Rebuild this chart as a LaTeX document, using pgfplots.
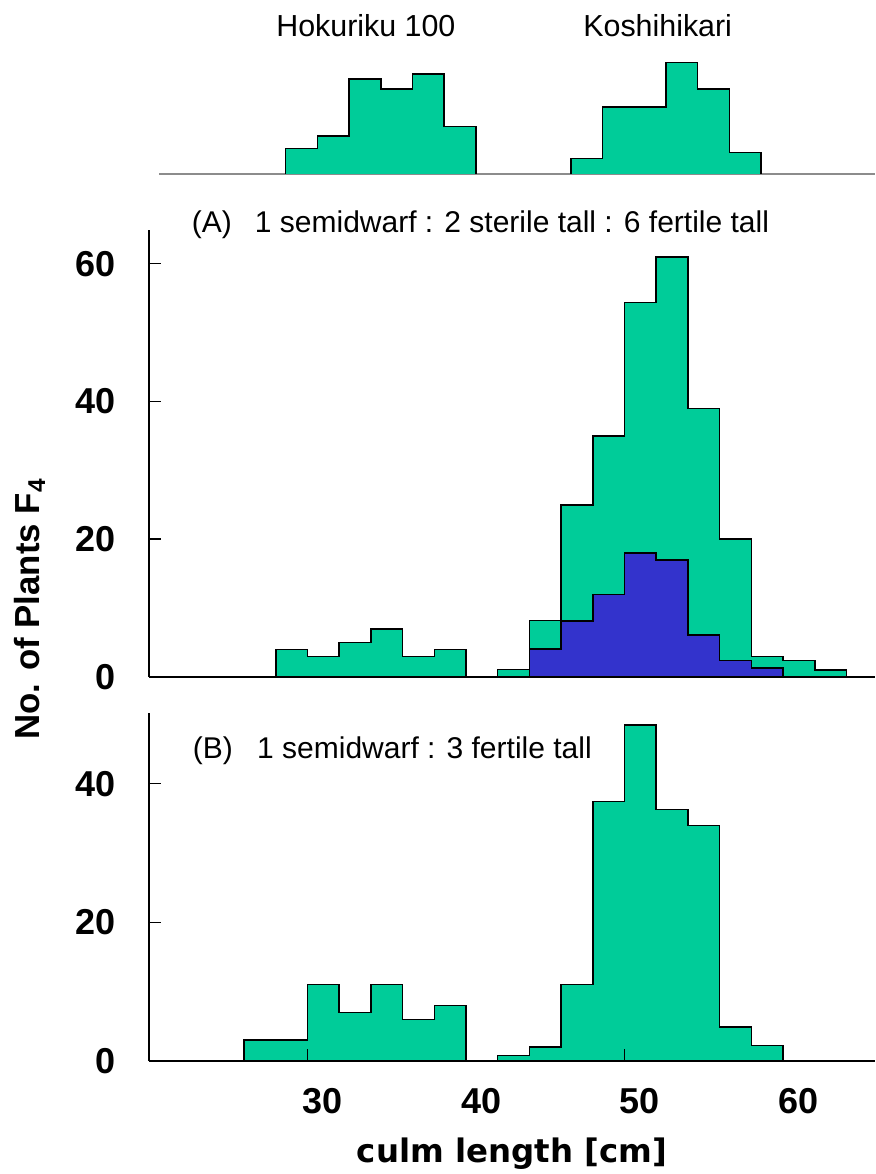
\documentclass[border=0pt]{standalone}
\usepackage{fontspec}
\setmainfont{Liberation Sans}
\newfontfamily\gothic{DejaVu Sans}
\usepackage{pgfplots}
\pgfplotsset{compat=1.18}
\definecolor{fertile}{HTML}{00CC99}
\definecolor{sterile}{HTML}{3333CC}

\pgfplotsset{
  panel/.style={
    scale only axis, anchor=south west,
    width=363pt, xmin=20, xmax=65.8, ymin=0,
    axis lines*=left, axis on top, clip=false,
    axis line style={black, line width=0.75pt},
    tick align=inside, major tick length=6pt,
    tick style={black, line width=0.75pt},
    /pgf/number format/assume math mode=true,
    tick label style={font=\fontsize{18}{18}\selectfont\bfseries},
    yticklabel style={anchor=east, inner sep=0pt, xshift=-16.5pt},
  },
  hist/.style={const plot, mark=none, draw=black, line width=0.75pt, fill=fertile},
}
\tikzset{note/.style={anchor=base west, inner sep=0pt, font=\fontsize{15}{15}\selectfont}}

\begin{document}
\begin{tikzpicture}
\useasboundingbox (0,0) rectangle (437.5pt,587pt);

% parents
\begin{axis}[
  scale only axis, anchor=south west, at={(79.5pt,500pt)},
  width=358pt, height=62pt,
  xmin=20.6, xmax=65.8, ymin=0, ymax=18,
  axis x line*=bottom, axis y line=none,
  xtick=\empty, ytick=\empty, clip=false,
  x axis line style={black!45, line width=0.6pt},
]
\addplot[hist] coordinates {(28.6,0) (28.6,3.67) (30.6,5.55) (32.6,13.77) (34.6,12.36) (36.6,14.49) (38.6,6.86) (40.6,0)};
\addplot[hist] coordinates {(46.6,0) (46.6,2.22) (48.6,9.71) (50.6,9.71) (52.6,16.19) (54.6,12.32) (56.6,3.09) (58.6,0)};
\node[anchor=base, font=\fontsize{15.2}{15.2}\selectfont] at (axis cs:33.66,20) {Hokuriku 100};
\node[anchor=base, font=\fontsize{15.2}{15.2}\selectfont] at (axis cs:52.08,20) {Koshihikari};
\end{axis}

% (A)
\begin{axis}[
  panel, at={(74.5pt,248.5pt)}, height=223.5pt,
  ymax=64.9, ytick={0,20,40,60}, xtick=\empty,
  ylabel={No. of Plants F\textsubscript{4}},
  ylabel style={at={(rel axis cs:-0.164,0.152)}, anchor=center,
                font=\bfseries\fontsize{17.4}{17.4}\selectfont},
]
\addplot[hist] coordinates {(28,0) (28,4) (30,3) (32,5) (34,7) (36,3) (38,4) (40,0)};
\addplot[hist] coordinates {(42,0) (42,1.1) (44,8.2) (46,25) (48,35) (50,54.4) (52,61) (54,39) (56,20) (58,3) (60,2.4) (62,1) (64,0)};
\addplot[hist, fill=sterile] coordinates {(44,0) (44,4.1) (46,8.1) (48,12) (50,18) (52,17) (54,6.1) (56,2.4) (58,1.3) (60,0)};
\node[note] at (axis cs:22.68,64.5) {(A)};
\node[note] at (axis cs:26.66,64.5) {1 semidwarf : 2 sterile tall : 6 fertile tall};
\end{axis}

% (B)
\begin{axis}[
  panel, at={(74.5pt,56.5pt)}, height=174pt,
  ymax=50.2, ytick={0,20,40}, xtick={30,40,50,60},
  xticklabel style={anchor=base, xshift=7.5pt, yshift=-26pt},
  xlabel={culm length [cm]},
  xlabel style={at={(rel axis cs:0.5,0)}, anchor=base, yshift=-50.5pt,
                font=\gothic\bfseries\fontsize{16.2}{16.2}\selectfont},
]
\addplot[hist] coordinates {(26,0) (26,3) (28,3) (30,11) (32,7) (34,11) (36,6) (38,8) (40,0)};
\addplot[hist] coordinates {(42,0) (42,0.8) (44,2) (46,11) (48,37.4) (50,48.5) (52,36.3) (54,34) (56,4.9) (58,2.2) (60,0)};
\node[note] at (axis cs:22.74,43.6) {(B)};
\node[note] at (axis cs:26.8,43.6) {1 semidwarf : 3 fertile tall};
\end{axis}
\end{tikzpicture}
\end{document}
